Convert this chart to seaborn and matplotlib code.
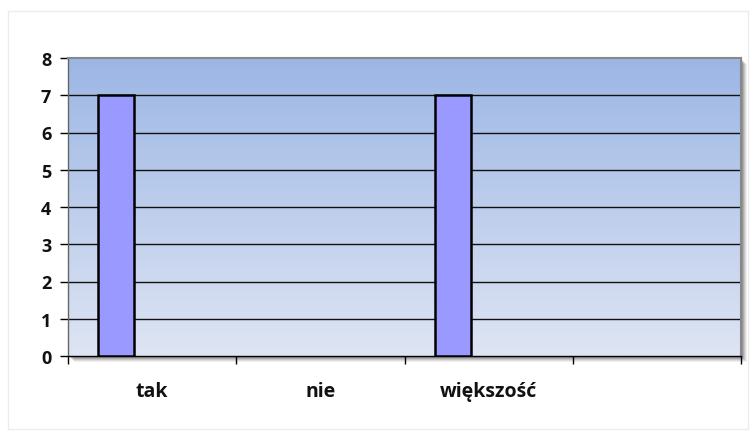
import numpy as np
import pandas as pd
import matplotlib
matplotlib.use("Agg")
import matplotlib.pyplot as plt
from matplotlib.colors import LinearSegmentedColormap
from matplotlib.patches import Rectangle
import seaborn as sns

categories = ["tak", "nie", "większość", ""]
series_names = ["Seria1", "Seria2", "Seria3"]
series1 = [7, 0, 7, 0]
series2 = [0, 0, 0, 0]
series3 = [0, 0, 0, 0]
y_ticks = [0, 1, 2, 3, 4, 5, 6, 7, 8]

rows = []
for name, vals in zip(series_names, [series1, series2, series3]):
    for c, v in zip(categories, vals):
        rows.append({"kategoria": c, "seria": name, "wartosc": v})
df = pd.DataFrame(rows)

sns.set_theme(style="white")
plt.rcParams['font.family'] = ['Open Sans', 'DejaVu Sans']

fig = plt.figure(figsize=(7.53, 4.39), dpi=100)
fig.patch.set_facecolor("white")
L, R, B, T = 68/753, 741/753, 1-357/439, 1-59/439
ax = fig.add_axes([L, B, R-L, T-B])
ax.set_zorder(2)

# chart area border
fig.patches.append(Rectangle((8/753, 1-430/439), (748-8)/753, (430-12)/439,
                             transform=fig.transFigure, fill=False,
                             edgecolor="#ececec", linewidth=1, zorder=-2))
# drop shadow of plot area
for off, a in [(6, 0.06), (5, 0.08), (4, 0.10), (3, 0.12), (2, 0.14)]:
    fig.patches.append(Rectangle((L + off/753, B - off/439), R-L, T-B,
                                 transform=fig.transFigure, facecolor="black",
                                 alpha=a, edgecolor="none", zorder=-1))

cmap = LinearSegmentedColormap.from_list("g", ["#dee5f4", "#9cb6e4"])
grad = np.linspace(0, 1, 256).reshape(-1, 1)
ax.imshow(grad, cmap=cmap, aspect="auto", extent=[0, 1, 0, 1],
          transform=ax.transAxes, origin="lower", zorder=0)

sns.barplot(data=df, x="kategoria", y="wartosc", hue="seria",
            order=categories, hue_order=series_names,
            palette=["#9999ff", "#993366", "#ffffcc"], saturation=1,
            width=0.643, edgecolor="black", linewidth=1.8, legend=False,
            ax=ax, zorder=3)
for p in ax.patches:
    if p.get_height() == 0:
        p.set_visible(False)

ax.set_xlim(-0.5, len(categories) - 0.5)
ax.set_ylim(0, 8)
ax.set_yticks(y_ticks)
for y in y_ticks[1:-1]:
    ax.axhline(y, color="#111111", linewidth=1.0, zorder=2)

ax.set_xlabel("")
ax.set_ylabel("")
ax.set_xticks(range(len(categories)))
ax.set_xticklabels(categories)
ax.set_xticks(np.arange(-0.5, len(categories)), minor=True)
ax.tick_params(axis="x", which="major", length=0, pad=18, labelsize=14)
ax.tick_params(axis="x", which="minor", length=6, width=1, color="black",
               direction="out", bottom=True)
ax.tick_params(axis="y", length=6, width=1, color="black", direction="out",
               left=True, labelsize=13, pad=6)
for lbl in ax.get_xticklabels() + ax.get_yticklabels():
    lbl.set_fontweight("bold")
    lbl.set_color("#111111")

for s in ["left", "bottom"]:
    ax.spines[s].set_color("black")
    ax.spines[s].set_linewidth(1.0)
for s in ["top", "right"]:
    ax.spines[s].set_color("#888888")
    ax.spines[s].set_linewidth(1.5)
ax.spines["left"].set_color("#666666")

fig.savefig("out.png", dpi=100)
